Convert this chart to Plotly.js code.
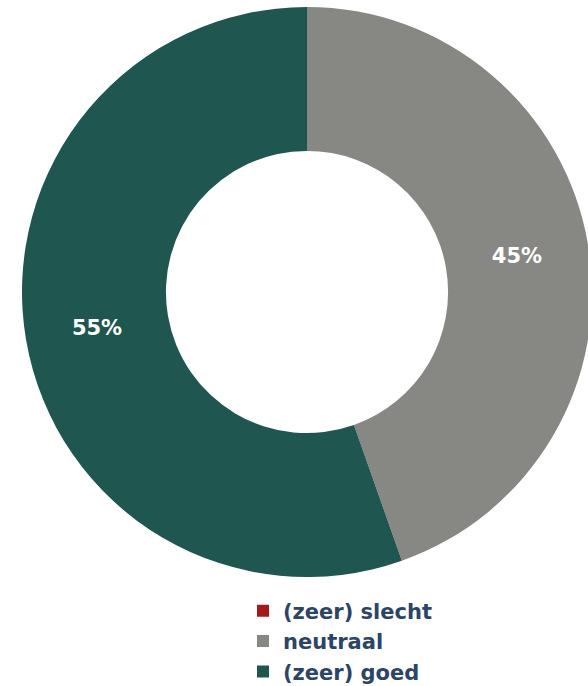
<!DOCTYPE html>
<html>
<head>
<meta charset="utf-8">
<script src="https://cdn.plot.ly/plotly-3.0.1.min.js"></script>
<style>html,body{margin:0;padding:0;background:#fff;overflow:hidden}#chart{width:592px;height:686px}</style>
</head>
<body>
<div id="chart"></div>
<script>
const categories = ["(zeer) slecht", "neutraal", "(zeer) goed"];
const values = [0, 44.6, 55.4];
const colors = ["#a3191c", "#878783", "#1f5650"];

const W = 592, H = 686;

const trace = {
  type: "pie",
  labels: categories,
  values: values,
  hole: 0.495,
  sort: false,
  direction: "clockwise",
  rotation: 0,
  marker: {colors: colors, line: {width: 0}},
  textinfo: "percent",
  texttemplate: "%{percent:.0%}",
  textposition: "inside",
  insidetextorientation: "horizontal",
  textfont: {family: "DejaVu Sans", size: 21, color: "#ffffff", weight: "bold"},
  domain: {x: [22 / W, 1], y: [1 - 577 / H, 1 - 7 / H]},
  hoverinfo: "none"
};

const layout = {
  width: W,
  height: H,
  margin: {l: 0, r: 0, t: 0, b: 0, autoexpand: false},
  paper_bgcolor: "#ffffff",
  showlegend: true,
  legend: {
    x: 243 / W, y: 0.139, xanchor: "left", yanchor: "top",
    font: {family: "DejaVu Sans", size: 21, color: "#2c4565", weight: "bold"},
    traceorder: "normal",
    itemwidth: 30
  }
};

Plotly.newPlot("chart", [trace], layout, {displayModeBar: false, staticPlot: true});
</script>
</body>
</html>
